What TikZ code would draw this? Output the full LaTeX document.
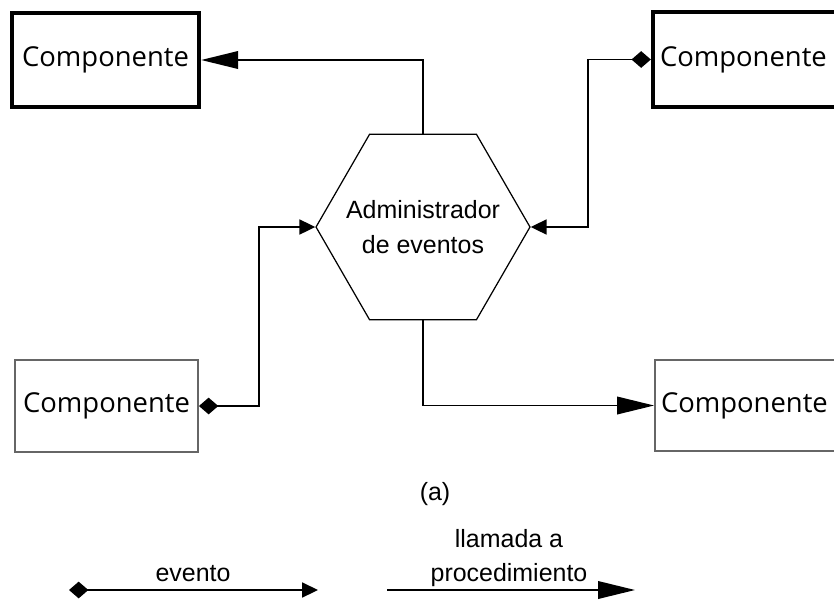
\documentclass[tikz,border=0pt]{standalone}
\usepackage{fontspec}
\setmainfont{Liberation Sans}
\newfontfamily\compfont{Open Sans}
\usetikzlibrary{arrows.meta,shapes.geometric}
\begin{document}
\begin{tikzpicture}[x=0.02cm,y=-0.02cm,
 comp/.style={draw, font=\compfont\fontsize{15.6}{18}\selectfont, inner sep=0pt},
 thickbox/.style={comp, line width=2.5pt},
 thinbox/.style={comp, draw=black!60, line width=1.1pt},
 conn/.style={line width=0.95pt},
 call/.style={conn, -{Triangle[length=21pt,width=10pt]}},
 event/.style={conn, {Diamond[length=11pt,width=9.5pt]}-{Triangle[length=9pt,width=8.5pt]}},
 lbl/.style={font=\fontsize{14.2}{19.5}\selectfont, align=center}
]
\clip (0,0) rectangle (834,599);
\fill[white] (0,0) rectangle (834,599);

\node[thickbox, minimum width=3.74cm, minimum height=1.88cm] (tl) at (105.5,60) {Componente};
\node[thickbox, text width=4.12cm, inner xsep=0.14cm, align=left, minimum height=1.9cm] (tr) at (763,59.5) {Componente};
\node[thinbox, minimum width=3.66cm, minimum height=1.84cm] (bl) at (106.5,406) {Componente};
\node[thinbox, text width=4.12cm, inner xsep=0.12cm, align=left, minimum height=1.82cm] (br) at (764,405.5) {Componente};

\node[regular polygon, regular polygon sides=6, draw, line width=0.7pt, minimum size=4.28cm, inner sep=0pt] (hex) at (423,227) {};
\node[lbl] (hext) at (hex.center) {Administrador\\de eventos};

\draw[call] (hex.north) |- (tl.east);
\draw[event] (tr.west) -- ++(-63,0) |- (hex.east);
\draw[event] (bl.east) -- ++(60,0) |- (hex.west);
\draw[call] (hex.south) |- (br.west);

\node[lbl] (a) at (435,494) {(a)};

\coordinate (e1) at (69,590);
\coordinate (e2) at (318,590);
\draw[event] (e1) -- (e2);
\node[lbl] (ev) at (193,574) {evento};

\coordinate (p1) at (387,590);
\coordinate (p2) at (635,590);
\draw[call] (p1) -- (p2);
\node[lbl] (lp) at (509,558) {llamada a\\procedimiento};
\end{tikzpicture}
\end{document}
